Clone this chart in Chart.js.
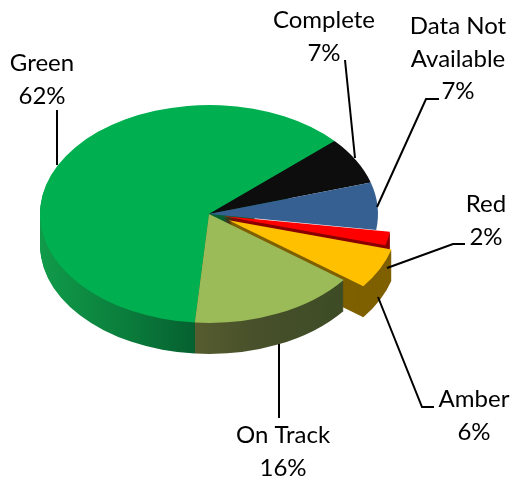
<!DOCTYPE html>
<html>
<head>
<meta charset="utf-8">
<style>
  html, body { margin: 0; padding: 0; background: #fff; }
  canvas { display: block; }
</style>
<script src="https://cdn.jsdelivr.net/npm/chart.js@4"></script>
</head>
<body>
<canvas id="pieChart" width="513" height="480"></canvas>
<script>
// Chart data, clockwise from the Green/Complete boundary
var categories = ['Complete', 'Data Not Available', 'Red', 'Amber', 'On Track', 'Green'];
var percents = [7, 7, 2, 6, 16, 62];
var faceColors = ['#0d0d0d', '#376092', '#ff0000', '#ffc000', '#9bbb59', '#00b050'];

// How far each slice is pulled out of the pie
var explode = [0, 0, 14, 22, 0, 0];

// Text lines above the percent value, with centre x and first baseline y
var labelLines = [['Complete'], ['Data Not', 'Available'], ['Red'], ['Amber'], ['On Track'], ['Green']];
var labelX = [324, 458, 486, 474, 283, 42];
var labelY = [28, 34, 212, 407, 443, 71];

// Leader lines
var leaders = [
    [[345, 60], [355, 158]],
    [[439, 99], [426, 99], [377, 207]],
    [[465, 244], [453, 244], [387, 268]],
    [[434, 407], [422, 407], [378, 297]],
    [[279, 344], [279, 418]],
    [[57, 110], [57, 165]]
];

var tilt = 0.645;
var depth = 31;

// Draws one slice with another fill
function drawSlice(ctx, arc, fill, dist) {
    var saved = arc.options;
    var mid = (arc.startAngle + arc.endAngle) / 2;
    arc.options = Object.assign({}, saved, { backgroundColor: fill });
    ctx.save();
    ctx.translate(Math.cos(mid) * dist, Math.sin(mid) * dist);
    arc.draw(ctx);
    ctx.restore();
    arc.options = saved;
}

function sideFill(ctx, index) {
    var g;
    if (index === 5) {
        g = ctx.createLinearGradient(40, 0, 196, 0);
        g.addColorStop(0, '#109b49');
        g.addColorStop(0.5, '#0b803d');
        g.addColorStop(1, '#056030');
        return g;
    }
    if (index === 4) {
        g = ctx.createLinearGradient(196, 0, 345, 0);
        g.addColorStop(0, '#575c2f');
        g.addColorStop(0.4, '#47502a');
        g.addColorStop(1, '#3d4c25');
        return g;
    }
    if (index === 3) return '#7f6000';
    if (index === 2) return '#8a0000';
    return null;
}

var pie3d = {
    id: 'pie3d',
    beforeDatasetsDraw: function(chart) {
        var ctx = chart.ctx;
        var arcs = chart.getDatasetMeta(0).data;
        var cx = arcs[0].x;
        var cy = arcs[0].y;

        function sides(list) {
            list.forEach(function(i) {
                var fill = sideFill(ctx, i);
                for (var d = depth; d >= 1; d--) {
                    ctx.save();
                    ctx.translate(cx, cy + d);
                    ctx.scale(1, tilt);
                    ctx.translate(-cx, -cy);
                    drawSlice(ctx, arcs[i], fill, explode[i]);
                    ctx.restore();
                }
            });
        }

        // Green wall, then the pulled out slices, then On Track hides their inner wall
        sides([5]);
        sides([2, 3]);
        sides([4]);

        ctx.save();
        ctx.translate(cx, cy);
        ctx.scale(1, tilt);
        ctx.translate(-cx, -cy);
        [5, 4, 0, 1, 2, 3].forEach(function(i) {
            drawSlice(ctx, arcs[i], faceColors[i], explode[i]);
        });
        ctx.restore();

        return false;
    },
    afterDraw: function(chart) {
        var ctx = chart.ctx;
        ctx.save();
        ctx.strokeStyle = '#000';
        ctx.lineWidth = 2;
        leaders.forEach(function(pts) {
            ctx.beginPath();
            pts.forEach(function(p, n) {
                if (n === 0) ctx.moveTo(p[0], p[1]);
                else ctx.lineTo(p[0], p[1]);
            });
            ctx.stroke();
        });

        ctx.fillStyle = '#000';
        ctx.font = '24px Lato';
        ctx.textAlign = 'center';
        ctx.textBaseline = 'alphabetic';
        categories.forEach(function(name, i) {
            var lines = labelLines[i].concat([percents[i] + '%']);
            lines.forEach(function(line, n) {
                ctx.fillText(line, labelX[i], labelY[i] + n * 32.5);
            });
        });
        ctx.restore();
    }
};

new Chart(document.getElementById('pieChart').getContext('2d'), {
    type: 'pie',
    data: {
        labels: categories,
        datasets: [{
            data: percents,
            backgroundColor: faceColors,
            borderWidth: 0
        }]
    },
    options: {
        responsive: false,
        animation: false,
        rotation: 48,
        radius: 169,
        layout: { padding: { left: 40, right: 135, top: 45, bottom: 97 } },
        plugins: {
            legend: { display: false },
            tooltip: { enabled: false }
        }
    },
    plugins: [pie3d]
});
</script>
</body>
</html>
